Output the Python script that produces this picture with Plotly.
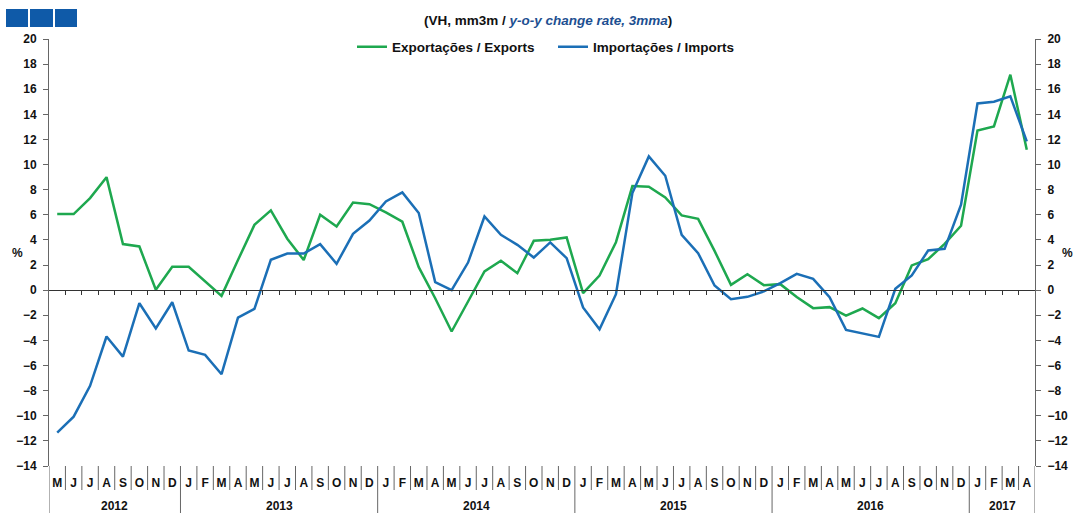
import plotly.graph_objects as go

months = ["M", "J", "J", "A", "S", "O", "N", "D"] + \
         ["J", "F", "M", "A", "M", "J", "J", "A", "S", "O", "N", "D"] * 4 + \
         ["J", "F", "M", "A"]
years = ["2012"] * 8 + ["2013"] * 12 + ["2014"] * 12 + ["2015"] * 12 + ["2016"] * 12 + ["2017"] * 4

exports = [6.06, 6.06, 7.33, 9.0, 3.67, 3.48, 0.03, 1.86,
           1.86, 0.7, -0.45, 2.4, 5.2, 6.35, 4.1, 2.4, 6.0, 5.07, 6.98, 6.85,
           6.2, 5.45, 1.83, -0.64, -3.29, -0.9, 1.49, 2.34, 1.35, 3.93, 4.02, 4.2,
           -0.24, 1.17, 3.82, 8.29, 8.23, 7.38, 5.95, 5.68, 3.13, 0.42, 1.27, 0.4,
           0.48, -0.55, -1.43, -1.35, -2.02, -1.46, -2.23, -1.04, 1.97, 2.47, 3.69, 5.13,
           12.72, 13.04, 17.16, 11.18]
imports = [-11.34, -10.07, -7.62, -3.69, -5.29, -1.04, -3.05, -0.96,
           -4.81, -5.15, -6.69, -2.18, -1.49, 2.42, 2.92, 2.92, 3.67, 2.1, 4.49, 5.55,
           7.07, 7.78, 6.14, 0.64, 0.0, 2.2, 5.87, 4.41, 3.61, 2.6, 3.8, 2.55,
           -1.38, -3.11, -0.32, 7.73, 10.65, 9.11, 4.41, 2.95, 0.37, -0.72, -0.53, -0.1,
           0.56, 1.3, 0.9, -0.56, -3.16, -3.43, -3.72, 0.11, 1.17, 3.16, 3.29, 6.8,
           14.87, 15.0, 15.43, 11.85]

y_ticks = list(range(-14, 21, 2))

GREEN = "#1ea84f"
BLUE = "#1b6fb6"
FONT = "Liberation Sans"

W, H = 1075, 513
L, R, T, B = 49, 40, 39, 47
PW, PH = W - L - R, H - T - B


def px_x(p):
    return (p - L) / PW


def px_y(p):
    return (H - B - p) / PH


idx = list(range(len(months)))
n = len(months)

fig = go.Figure()
fig.add_trace(go.Scatter(x=idx, y=exports, mode="lines", name="Exportações / Exports",
                         line=dict(color=GREEN, width=2.5), xaxis="x", yaxis="y"))
fig.add_trace(go.Scatter(x=idx, y=imports, mode="lines", name="Importações / Imports",
                         line=dict(color=BLUE, width=2.5), xaxis="x2", yaxis="y2"))

tickfont = dict(family=FONT, size=12, color="#111", weight="bold")
axis_col = "#666"

shapes = []
# month separators
for i in range(n - 1):
    if years[i] != years[i + 1]:
        continue
    shapes.append(dict(type="line", xref="x", yref="paper", x0=i + 0.5, x1=i + 0.5,
                       y0=0, y1=px_y(490), line=dict(color=axis_col, width=1)))
# year separators (including plot edges)
bounds = [-0.5] + [i + 0.5 for i in range(n - 1) if years[i] != years[i + 1]] + [n - 0.5]
for b in bounds:
    shapes.append(dict(type="line", xref="x", yref="paper", x0=b, x1=b,
                       y0=0, y1=px_y(513), line=dict(color=axis_col, width=1)))
# header squares
for x0, x1 in [(6, 28), (30, 53), (55, 77)]:
    shapes.append(dict(type="rect", xref="paper", yref="paper",
                       x0=px_x(x0), x1=px_x(x1), y0=px_y(27), y1=px_y(9),
                       fillcolor="#0f5aa8", line=dict(width=0)))

annotations = []
uniq_years = []
for y in years:
    if y not in uniq_years:
        uniq_years.append(y)
for yr in uniq_years:
    pos = [i for i, v in enumerate(years) if v == yr]
    annotations.append(dict(text=yr, x=sum(pos) / len(pos), xref="x", y=px_y(506),
                            yref="paper", showarrow=False, xanchor="center",
                            yanchor="middle", font=tickfont))
annotations.append(dict(text="%", x=px_x(17), y=px_y(253), xref="paper", yref="paper",
                        showarrow=False, xanchor="center", yanchor="middle", font=tickfont))
annotations.append(dict(text="%", x=px_x(1067), y=px_y(253), xref="paper", yref="paper",
                        showarrow=False, xanchor="center", yanchor="middle", font=tickfont))
annotations.append(dict(
    text="<b>(VH, mm3m / <i><span style='color:#1d4f91'>y-o-y change rate, 3mma</span></i>)</b>",
    x=px_x(548), y=px_y(21), xref="paper", yref="paper", showarrow=False,
    xanchor="center", yanchor="middle",
    font=dict(family=FONT, size=13.5, color="#111")))

fig.update_layout(
    width=W, height=H,
    margin=dict(l=L, r=R, t=T, b=B, autoexpand=False),
    paper_bgcolor="white", plot_bgcolor="white",
    showlegend=True,
    legend=dict(orientation="h", x=px_x(352), xanchor="left", y=px_y(47),
                yanchor="middle",
                font=dict(family=FONT, size=13.5, color="#111", weight="bold"),
                bgcolor="rgba(0,0,0,0)", itemwidth=30, tracegroupgap=0,
                entrywidth=156, entrywidthmode="pixels"),
    xaxis=dict(range=[-0.5, n - 0.5], anchor="free", position=14 / 34,
               showline=True, linecolor="#333", linewidth=1,
               tickvals=[i + 0.5 for i in range(n - 1)], ticks="outside", ticklen=4,
               tickcolor="#333", showticklabels=False, showgrid=False, zeroline=False),
    xaxis2=dict(range=[-0.5, n - 0.5], overlaying="x", anchor="y", side="bottom",
                tickvals=idx, ticktext=months, ticks="", showline=False,
                showgrid=False, zeroline=False, tickfont=tickfont,
                ticklabelstandoff=8),
    yaxis=dict(range=[-14, 20], tickvals=y_ticks, ticks="outside", ticklen=5,
               tickcolor=axis_col, showline=True, linecolor=axis_col, linewidth=1,
               showgrid=False, zeroline=False, tickfont=tickfont, ticklabelstandoff=4),
    yaxis2=dict(range=[-14, 20], tickvals=y_ticks, overlaying="y", side="right",
                anchor="x2", ticks="outside", ticklen=5, tickcolor=axis_col,
                showline=True, linecolor=axis_col, linewidth=1, showgrid=False,
                zeroline=False, tickfont=tickfont, ticklabelstandoff=4),
    shapes=shapes,
    annotations=annotations,
)

fig.write_html("out.html", config={"displayModeBar": False},
               post_script="document.body.style.margin='0px';document.body.style.overflow='hidden';")
